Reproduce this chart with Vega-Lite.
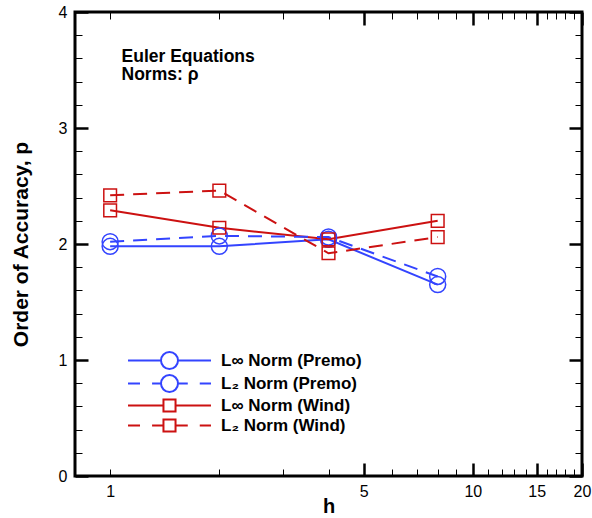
{
  "$schema": "https://vega.github.io/schema/vega-lite/v6.json",
  "autosize": {"type": "none"},
  "width": 507,
  "height": 464,
  "padding": {"left": 75, "top": 12, "right": 10, "bottom": 42},
  "background": "white",
  "config": {
    "view": {"stroke": "black", "strokeWidth": 3},
    "font": "Liberation Sans",
    "axis": {
      "domain": false,
      "grid": false,
      "labelFont": "Liberation Sans",
      "labelFontSize": 16,
      "labelColor": "black",
      "tickColor": "black",
      "titleFont": "Liberation Sans",
      "titleFontWeight": "bold",
      "titleColor": "black",
      "labelFlush": false,
      "labelOverlap": false,
      "labelBound": false
    }
  },
  "data": {
    "values": [
      {"series": "L∞ Norm (Premo)", "h": 1, "p": 1.98},
      {"series": "L∞ Norm (Premo)", "h": 2, "p": 1.98},
      {"series": "L∞ Norm (Premo)", "h": 4, "p": 2.04},
      {"series": "L∞ Norm (Premo)", "h": 8, "p": 1.65},
      {"series": "L₂ Norm (Premo)", "h": 1, "p": 2.02},
      {"series": "L₂ Norm (Premo)", "h": 2, "p": 2.07},
      {"series": "L₂ Norm (Premo)", "h": 4, "p": 2.06},
      {"series": "L₂ Norm (Premo)", "h": 8, "p": 1.72},
      {"series": "L∞ Norm (Wind)", "h": 1, "p": 2.29},
      {"series": "L∞ Norm (Wind)", "h": 2, "p": 2.14},
      {"series": "L∞ Norm (Wind)", "h": 4, "p": 2.04},
      {"series": "L∞ Norm (Wind)", "h": 8, "p": 2.2},
      {"series": "L₂ Norm (Wind)", "h": 1, "p": 2.42},
      {"series": "L₂ Norm (Wind)", "h": 2, "p": 2.46},
      {"series": "L₂ Norm (Wind)", "h": 4, "p": 1.92},
      {"series": "L₂ Norm (Wind)", "h": 8, "p": 2.06}
    ]
  },
  "layer": [
    {
      "transform": [{"filter": "indexof(datum.series, '∞') >= 0"}],
      "mark": {"type": "line", "strokeWidth": 2},
      "encoding": {
        "x": {
          "field": "h", "type": "quantitative",
          "scale": {"type": "log", "domain": [0.8, 20], "nice": false},
          "axis": {
            "orient": "bottom",
            "values": [1,2,3,4,5,6,7,8,9,10,11,12,13,14,15,16,17,18,19,20],
            "tickSize": -7, "tickWidth": 1,
            "labelExpr": "indexof([1,5,10,15,20], datum.value) >= 0 ? format(datum.value, 'd') : ''",
            "labelPadding": 14,
            "title": "h", "titleFontSize": 20, "titlePadding": -3
          }
        },
        "y": {
          "field": "p", "type": "quantitative",
          "scale": {"domain": [0, 4], "nice": false, "zero": false},
          "axis": {
            "orient": "left",
            "values": [0,0.2,0.4,0.6,0.8,1,1.2,1.4,1.6,1.8,2,2.2,2.4,2.6,2.8,3,3.2,3.4,3.6,3.8,4],
            "tickSize": -7, "tickWidth": 1,
            "labelExpr": "datum.value % 1 == 0 ? format(datum.value, 'd') : ''",
            "labelPadding": 15,
            "title": "Order of Accuracy, p", "titleFontSize": 21, "titlePadding": 27
          }
        },
        "color": {
          "field": "series", "type": "nominal",
          "scale": {
            "domain": ["L∞ Norm (Premo)", "L₂ Norm (Premo)", "L∞ Norm (Wind)", "L₂ Norm (Wind)"],
            "range": ["#3344ff", "#3344ff", "#cc1111", "#cc1111"]
          },
          "legend": {
            "orient": "none", "legendX": 85, "legendY": 339,
            "title": null, "padding": 0,
            "labelFont": "Liberation Sans", "labelFontSize": 17, "labelFontWeight": "bold", "labelColor": "black",
            "labelOffset": 42, "rowPadding": -2,
            "symbolSize": 289, "symbolStrokeWidth": 2,
            "encode": {
              "symbols": {
                "update": {
                  "fill": {"value": "transparent"},
                  "shape": {"signal": "indexof(datum.value, 'Premo') >= 0 ? (indexof(datum.value, '∞') >= 0 ? 'M-4.88,0H-1M1,0H4.88M1,0A1,1,0,1,1,-1,0A1,1,0,1,1,1,0' : 'M-4.88,0H-3.47M-2.05,0H-1M1,0H2.15M3.56,0H4.88M1,0A1,1,0,1,1,-1,0A1,1,0,1,1,1,0') : (indexof(datum.value, '∞') >= 0 ? 'M-4.88,0H-0.71M0.71,0H4.88M-0.71,-0.71H0.71V0.71H-0.71Z' : 'M-4.88,0H-3.47M-2.05,0H-0.71M0.71,0H2.15M3.56,0H4.88M-0.71,-0.71H0.71V0.71H-0.71Z')"}
                }
              }
            }
          }
        }
      }
    },
    {
      "transform": [{"filter": "indexof(datum.series, '₂') >= 0"}],
      "mark": {"type": "line", "strokeWidth": 2, "strokeDash": [14, 9]},
      "encoding": {
        "x": {"field": "h", "type": "quantitative", "axis": null},
        "y": {"field": "p", "type": "quantitative", "axis": null},
        "color": {"field": "series", "type": "nominal", "legend": null}
      }
    },
    {
      "transform": [{"filter": "indexof(datum.series, 'Premo') >= 0"}],
      "mark": {"type": "point", "shape": "circle", "filled": false, "size": 256, "strokeWidth": 1.5, "color": "#3344ff", "opacity": 1},
      "encoding": {
        "x": {
          "field": "h", "type": "quantitative",
          "axis": {"orient": "bottom", "values": [5,10,15,20], "tickSize": -13, "tickWidth": 2.5, "labels": false, "title": null}
        },
        "y": {
          "field": "p", "type": "quantitative",
          "axis": {"orient": "left", "values": [0,1,2,3,4], "tickSize": -13, "tickWidth": 2.5, "labels": false, "title": null}
        }
      }
    },
    {
      "transform": [{"filter": "indexof(datum.series, 'Wind') >= 0"}],
      "mark": {"type": "point", "shape": "square", "filled": false, "size": 161, "strokeWidth": 1.5, "color": "#cc1111", "opacity": 1},
      "encoding": {
        "x": {
          "field": "h", "type": "quantitative",
          "axis": {"orient": "top", "values": [1,2,3,4,5,6,7,8,9,10,11,12,13,14,15,16,17,18,19,20], "tickSize": -7, "tickWidth": 1, "labels": false, "title": null}
        },
        "y": {
          "field": "p", "type": "quantitative",
          "axis": {"orient": "right", "values": [0,0.2,0.4,0.6,0.8,1,1.2,1.4,1.6,1.8,2,2.2,2.4,2.6,2.8,3,3.2,3.4,3.6,3.8,4], "tickSize": -7, "tickWidth": 1, "labels": false, "title": null}
        }
      }
    },
    {
      "data": {"values": [{"note": "Euler Equations\nNorms: ρ"}]},
      "mark": {"type": "text", "align": "left", "baseline": "alphabetic", "fontSize": 17.5, "fontWeight": "bold", "lineBreak": "\n", "lineHeight": 18.5, "color": "black", "font": "Liberation Sans"},
      "encoding": {
        "x": {
          "datum": 1.075, "type": "quantitative",
          "axis": {"orient": "top", "values": [5,10,15,20], "tickSize": -13, "tickWidth": 2.5, "labels": false, "title": null}
        },
        "y": {
          "datum": 3.569, "type": "quantitative",
          "axis": {"orient": "right", "values": [0,1,2,3,4], "tickSize": -13, "tickWidth": 2.5, "labels": false, "title": null}
        },
        "text": {"field": "note"}
      }
    }
  ]
}
